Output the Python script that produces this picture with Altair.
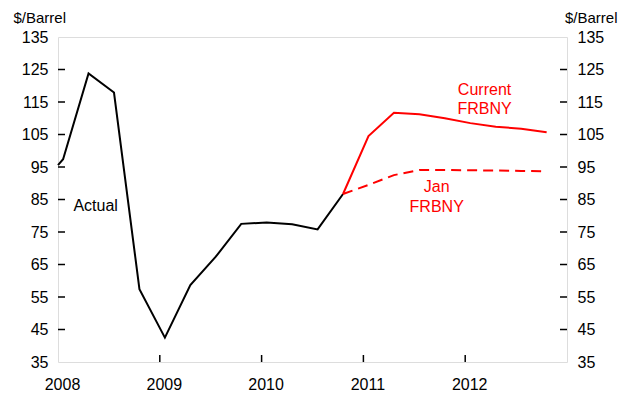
import altair as alt
import pandas as pd

# Actual (quarterly, black)
actual_x = [2008.0, 2008.05, 2008.30, 2008.55, 2008.80, 2009.05, 2009.30, 2009.55,
            2009.80, 2010.05, 2010.30, 2010.55, 2010.80]
actual_y = [95.6, 97.4, 123.8, 117.9, 57.4, 42.5, 58.7, 67.4, 77.5, 77.9, 77.4, 75.8, 86.7]

# Current FRBNY forecast (red solid)
cur_x = [2010.80, 2011.05, 2011.30, 2011.55, 2011.80, 2012.05, 2012.30, 2012.55, 2012.80]
cur_y = [86.7, 104.5, 111.7, 111.2, 110.0, 108.5, 107.4, 106.8, 105.7]

# Jan FRBNY forecast (red dashed)
jan_x = [2010.80, 2011.05, 2011.30, 2011.55, 2011.80, 2012.05, 2012.30, 2012.55, 2012.80]
jan_y = [86.7, 89.5, 92.5, 94.1, 94.1, 94.0, 93.9, 93.8, 93.7]

y_ticks = [35, 45, 55, 65, 75, 85, 95, 105, 115, 125, 135]
y_inner_ticks = [45, 55, 65, 75, 85, 95, 105, 115, 125]
x_ticks = [2008, 2009, 2010, 2011, 2012]
x_inner_ticks = [2009, 2010, 2011, 2012]

labels_text = ["Actual", "Current", "FRBNY", "Jan", "FRBNY"]
labels_x = [2008.37, 2012.19, 2012.19, 2011.72, 2011.72]
labels_y = [83.0, 118.8, 112.8, 88.7, 82.8]
labels_color = ["black", "red", "red", "red", "red"]

W, H = 509, 325
FONT = "Liberation Sans"
RED = "#ff0000"

xs = alt.Scale(domain=[2008, 2013], nice=False, zero=False)
ys = alt.Scale(domain=[35, 135], nice=False, zero=False)

df_act = pd.DataFrame({"x": actual_x, "y": actual_y})
df_cur = pd.DataFrame({"x": cur_x, "y": cur_y})
df_jan = pd.DataFrame({"x": jan_x, "y": jan_y})
df_lab = pd.DataFrame({"x": labels_x, "y": labels_y, "t": labels_text, "c": labels_color})
df_yt = pd.DataFrame({"v": y_inner_ticks})
df_xt = pd.DataFrame({"v": x_inner_ticks})

common = dict(grid=False, domain=False, ticks=False, tickSize=0, labelFontSize=16,
              labelFont=FONT, labelColor="black", labelOverlap=False, labelFlush=False,
              labelBound=False, format="d")

x_axis = alt.Axis(values=x_ticks, labelPadding=14, title=None, labelOffset=4, **common)
y_left_axis = alt.Axis(values=y_ticks, labelPadding=10, orient="left",
                       title="$/Barrel", titleAngle=0,
                       titleAlign="left", titleBaseline="middle", titleX=-45, titleY=-20,
                       titleFont=FONT, titleFontSize=15, titleFontWeight="normal",
                       titleColor="black", **common)
y_right_axis = alt.Axis(values=y_ticks, labelPadding=10, orient="right",
                        title="$/Barrel", titleAngle=0,
                        titleAlign="right", titleBaseline="middle", titleX=50, titleY=-20,
                        titleFont=FONT, titleFontSize=15, titleFontWeight="normal",
                        titleColor="black", **common)

# data layers (share one y scale, no y axis of their own)
actual = alt.Chart(df_act).mark_line(color="black", strokeWidth=2).encode(
    x=alt.X("x:Q", scale=xs, axis=x_axis),
    y=alt.Y("y:Q", scale=ys, axis=None),
)
current = alt.Chart(df_cur).mark_line(color=RED, strokeWidth=2).encode(
    x=alt.X("x:Q", scale=xs), y=alt.Y("y:Q", scale=ys, axis=None))
jan = alt.Chart(df_jan).mark_line(color=RED, strokeWidth=2, strokeDash=[10, 6]).encode(
    x=alt.X("x:Q", scale=xs), y=alt.Y("y:Q", scale=ys, axis=None))
labels = alt.Chart(df_lab).mark_text(font=FONT, fontSize=16, align="center",
                                     baseline="middle").encode(
    x=alt.X("x:Q", scale=xs), y=alt.Y("y:Q", scale=ys, axis=None), text="t:N",
    color=alt.Color("c:N", scale=None))
bottom_ticks = alt.Chart(df_xt).mark_rule(color="black", strokeWidth=1.5).encode(
    x=alt.X("v:Q", scale=xs), y=alt.value(H), y2=alt.value(H - 7))

main = alt.layer(actual, current, jan, labels, bottom_ticks)

left_ticks = alt.Chart(df_yt).mark_rule(color="black", strokeWidth=1.5).encode(
    y=alt.Y("v:Q", scale=ys, axis=y_left_axis), x=alt.value(0), x2=alt.value(7))
right_ticks = alt.Chart(df_yt).mark_rule(color="black", strokeWidth=1.5).encode(
    y=alt.Y("v:Q", scale=ys, axis=y_right_axis), x=alt.value(W - 7), x2=alt.value(W))

chart = alt.layer(left_ticks, main, right_ticks).resolve_scale(y="independent").properties(
    width=W, height=H,
    autosize=alt.AutoSizeParams(type="none"),
    padding={"left": 50, "top": 29, "right": 51, "bottom": 38},
).configure_view(stroke="black", strokeWidth=1.5).configure_axis(
    labelOverlap=False, labelFlush=False, labelBound=False
).configure(background="white")

chart.save("out.html", embed_options={"renderer": "svg", "actions": False})
